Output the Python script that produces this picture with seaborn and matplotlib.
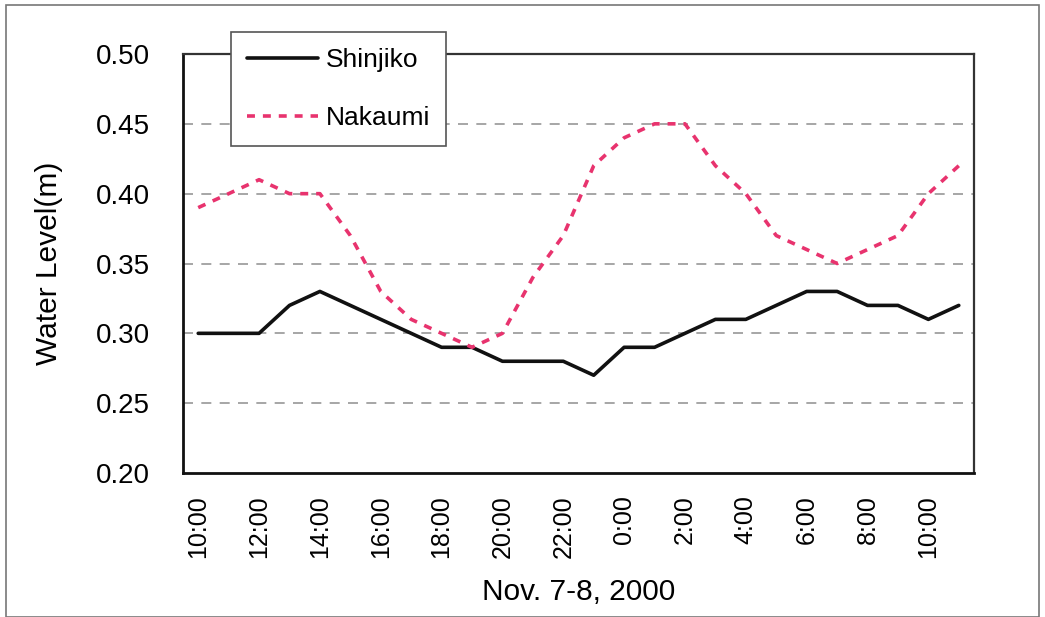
import matplotlib
matplotlib.use("Agg")
import matplotlib.pyplot as plt
import seaborn as sns
import pandas as pd
from matplotlib.patches import Rectangle
from matplotlib.lines import Line2D

hours = ["10:00", "11:00", "12:00", "13:00", "14:00", "15:00", "16:00", "17:00",
         "18:00", "19:00", "20:00", "21:00", "22:00", "23:00", "0:00", "1:00",
         "2:00", "3:00", "4:00", "5:00", "6:00", "7:00", "8:00", "9:00",
         "10:00", "11:00"]
shinjiko = [0.30, 0.30, 0.30, 0.32, 0.33, 0.32, 0.31, 0.30, 0.29, 0.29, 0.28, 0.28, 0.28,
            0.27, 0.29, 0.29, 0.30, 0.31, 0.31, 0.32, 0.33, 0.33, 0.32, 0.32, 0.31, 0.32]
nakaumi = [0.39, 0.40, 0.41, 0.40, 0.40, 0.37, 0.33, 0.31, 0.30, 0.29, 0.30, 0.34, 0.37,
           0.42, 0.44, 0.45, 0.45, 0.42, 0.40, 0.37, 0.36, 0.35, 0.36, 0.37, 0.40, 0.42]
series_names = ["Shinjiko", "Nakaumi"]
yticks = [0.20, 0.25, 0.30, 0.35, 0.40, 0.45, 0.50]

pos = list(range(len(hours)))
df = pd.DataFrame({
    "pos": pos * 2,
    "level": shinjiko + nakaumi,
    "site": [series_names[0]] * len(hours) + [series_names[1]] * len(hours),
})

sns.set_theme(style="white")
plt.rcParams["font.family"] = ["Liberation Sans", "DejaVu Sans"]
plt.rcParams["text.color"] = "black"
plt.rcParams["axes.labelcolor"] = "black"
plt.rcParams["xtick.color"] = "black"
plt.rcParams["ytick.color"] = "black"

BLACK = "#111111"
PINK = "#e8336e"

fig = plt.figure(figsize=(10.45, 6.17), dpi=100)
ax = fig.add_axes([183 / 1045, 1 - 473 / 617, (974 - 183) / 1045, (473 - 54) / 617])

for v in yticks[1:-1]:
    ax.axhline(v, color="#979797", lw=1.2, ls=(0, (6, 5)), zorder=1)

sns.lineplot(data=df, x="pos", y="level", hue="site", style="site",
             palette={"Shinjiko": BLACK, "Nakaumi": PINK},
             dashes={"Shinjiko": "", "Nakaumi": (2.2, 2.2)},
             linewidth=2.6, ax=ax, legend=False, sort=False, zorder=3)

ax.set_xlim(-0.5, len(hours) - 0.5)
ax.set_ylim(0.20, 0.50)
ax.set_yticks(yticks)
ax.set_yticklabels([f"{v:.2f}" for v in yticks], fontsize=20)
ax.set_xticks(pos[::2])
ax.set_xticklabels(hours[::2], rotation=90, fontsize=18)
ax.set_xticks([p + 0.5 for p in pos[:-1]], minor=True)
ax.tick_params(axis="x", which="major", length=0, pad=16)
ax.tick_params(axis="x", which="minor", direction="in", length=6, width=1, color="#333333")
ax.tick_params(axis="y", length=0, pad=24)
ax.set_xlabel("Nov. 7-8, 2000", fontsize=21.5)
ax.set_ylabel("Water Level(m)", fontsize=21.5)
ax.xaxis.set_label_coords(0.5, (473 - 578) / 419)
ax.yaxis.set_label_coords((63 - 183) / 791, 0.5)

for side in ["left", "bottom"]:
    ax.spines[side].set_color(BLACK)
    ax.spines[side].set_linewidth(2.0)
for side in ["top", "right"]:
    ax.spines[side].set_color("#333333")
    ax.spines[side].set_linewidth(1.6)

handles = [Line2D([], [], color=BLACK, lw=2.6),
           Line2D([], [], color=PINK, lw=2.6, ls=(0, (2.2, 2.2)))]
leg = fig.legend(handles, series_names, loc="upper left",
                 bbox_to_anchor=(231 / 1045, 1 - 32 / 617), borderaxespad=0,
                 fontsize=19, frameon=True, fancybox=False, framealpha=1,
                 edgecolor="#555555", handlelength=2.7, handletextpad=0.3,
                 labelspacing=1.3, borderpad=0.6)
leg.get_frame().set_linewidth(1.2)
leg.set_zorder(10)

fig.patches.append(Rectangle((6 / 1045, 0), 1 - 12 / 1045, 1 - 5 / 617,
                             transform=fig.transFigure, fill=False,
                             edgecolor="#777777", lw=1.2))

fig.savefig("out.png", dpi=100)
